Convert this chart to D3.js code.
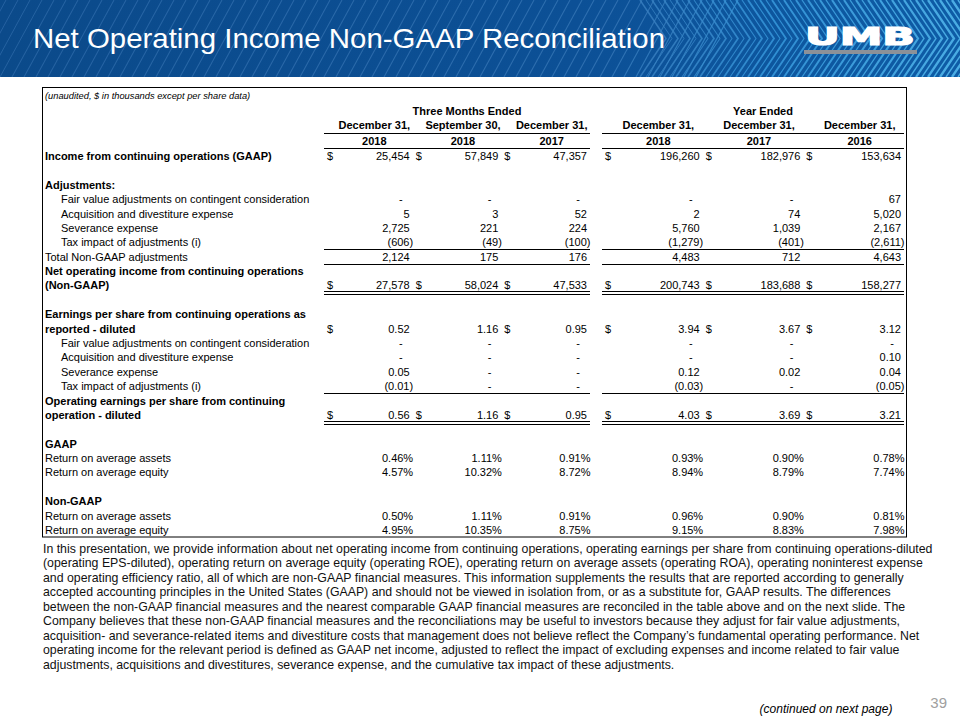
<!DOCTYPE html>
<html><head><meta charset="utf-8">
<script src="https://cdn.jsdelivr.net/npm/d3@7"></script>
<style>body{margin:0;background:#fff}svg{display:block}</style>
</head><body>
<svg id="c" width="960" height="720"></svg>
<script>
// ---------- data ----------
const title = "Net Operating Income Non-GAAP Reconciliation";
const unitNote = "(unaudited, $ in thousands except per share data)";
const groupTitles = ["Three Months Ended", "Year Ended"];
const periodLabels = ["December 31,", "September 30,", "December 31,", "December 31,", "December 31,", "December 31,"];
const periodYears = ["2018", "2018", "2017", "2018", "2017", "2016"];

const incomeGAAP      = [25454, 57849, 47357, 196260, 182976, 153634];
const adjFairValue    = [0, 0, 0, 0, 0, 67];
const adjAcquisition  = [5, 3, 52, 2, 74, 5020];
const adjSeverance    = [2725, 221, 224, 5760, 1039, 2167];
const adjTax          = [-606, -49, -100, -1279, -401, -2611];
const adjTotal        = [2124, 175, 176, 4483, 712, 4643];
const netOperating    = [27578, 58024, 47533, 200743, 183688, 158277];
const epsReported     = [0.52, 1.16, 0.95, 3.94, 3.67, 3.12];
const epsFairValue    = [0, 0, 0, 0, 0, 0];
const epsAcquisition  = [0, 0, 0, 0, 0, 0.10];
const epsSeverance    = [0.05, 0, 0, 0.12, 0.02, 0.04];
const epsTax          = [-0.01, 0, 0, -0.03, 0, -0.05];
const epsOperating    = [0.56, 1.16, 0.95, 4.03, 3.69, 3.21];
const gaapROA         = [0.46, 1.11, 0.91, 0.93, 0.90, 0.78];
const gaapROE         = [4.57, 10.32, 8.72, 8.94, 8.79, 7.74];
const nonGaapROA      = [0.50, 1.11, 0.91, 0.96, 0.90, 0.81];
const nonGaapROE      = [4.95, 10.35, 8.75, 9.15, 8.83, 7.98];

const paragraphLines = [
  "In this presentation, we provide information about net operating income from continuing operations, operating earnings per share from continuing operations-diluted",
  "(operating EPS-diluted), operating return on average equity (operating ROE), operating return on average assets (operating ROA), operating noninterest expense",
  "and operating efficiency ratio, all of which are non-GAAP  financial measures. This information supplements the results that are reported according to generally",
  "accepted accounting principles in the United States (GAAP)  and should not be viewed in isolation from, or as a substitute for, GAAP  results. The differences",
  "between the non-GAAP financial measures and the nearest comparable GAAP financial measures are reconciled in the table above and on the next slide. The",
  "Company believes that these non-GAAP  financial measures and the reconciliations may be useful to investors because they adjust for fair value adjustments,",
  "acquisition- and severance-related items and divestiture costs that management does not believe reflect the Company\u2019s fundamental operating performance. Net",
  "operating income for the relevant period is defined as GAAP  net income, adjusted to reflect the impact of excluding expenses and income related to fair value",
  "adjustments, acquisitions and divestitures, severance expense, and the cumulative tax impact of these adjustments."
];
const footnote = "(continued on next page)";
const pageNumber = "39";

// ---------- formats ----------
const fInt = v => v === 0 ? "-" : v < 0 ? "(" + d3.format(",")(-v) + ")" : d3.format(",")(v);
const fEps = v => v === 0 ? "-" : v < 0 ? "(" + d3.format(".2f")(-v) + ")" : d3.format(".2f")(v);
const fPct = v => d3.format(".2f")(v) + "%";
const ALL = [0,1,2,3,4,5];

const rows = [
  {label:"Income from continuing operations (GAAP)", bold:true, values:incomeGAAP, fmt:fInt, dollar:ALL},
  {label:""},
  {label:"Adjustments:", bold:true},
  {label:"Fair value adjustments on contingent consideration", indent:true, values:adjFairValue, fmt:fInt},
  {label:"Acquisition and divestiture expense", indent:true, values:adjAcquisition, fmt:fInt},
  {label:"Severance expense", indent:true, values:adjSeverance, fmt:fInt},
  {label:"Tax impact of adjustments (i)", indent:true, values:adjTax, fmt:fInt, rule:"single"},
  {label:"Total Non-GAAP adjustments", values:adjTotal, fmt:fInt, rule:"single"},
  {label:"Net operating income from continuing operations", bold:true},
  {label:"(Non-GAAP)", bold:true, values:netOperating, fmt:fInt, dollar:ALL, rule:"double"},
  {label:""},
  {label:"Earnings per share from continuing operations as", bold:true},
  {label:"reported - diluted", bold:true, values:epsReported, fmt:fEps, dollar:[0,2,3,4,5]},
  {label:"Fair value adjustments on contingent consideration", indent:true, values:epsFairValue, fmt:fEps},
  {label:"Acquisition and divestiture expense", indent:true, values:epsAcquisition, fmt:fEps},
  {label:"Severance expense", indent:true, values:epsSeverance, fmt:fEps},
  {label:"Tax impact of adjustments (i)", indent:true, values:epsTax, fmt:fEps, rule:"single"},
  {label:"Operating earnings per share from continuing", bold:true},
  {label:"operation - diluted", bold:true, values:epsOperating, fmt:fEps, dollar:ALL, rule:"double"},
  {label:""},
  {label:"GAAP", bold:true},
  {label:"Return on average assets", values:gaapROA, fmt:fPct, pct:true},
  {label:"Return on average equity", values:gaapROE, fmt:fPct, pct:true},
  {label:""},
  {label:"Non-GAAP", bold:true},
  {label:"Return on average assets", values:nonGaapROA, fmt:fPct, pct:true},
  {label:"Return on average equity", values:nonGaapROE, fmt:fPct, pct:true}
];

// ---------- drawing ----------
const svg = d3.select("#c");
const defs = svg.append("defs");
const FONT = "'Liberation Sans', Arial, sans-serif";

// Header bar
const hg = defs.append("linearGradient").attr("id","hg");
hg.append("stop").attr("offset","0%").attr("stop-color","#0b4a8a");
hg.append("stop").attr("offset","60%").attr("stop-color","#0c5096");
hg.append("stop").attr("offset","100%").attr("stop-color","#0e5ca6");
defs.append("clipPath").attr("id","hc").append("rect").attr("width",960).attr("height",77);
const hdr = svg.append("g").attr("clip-path","url(#hc)");
hdr.append("rect").attr("width",960).attr("height",77).attr("fill","url(#hg)");
const stripeCol = d3.scaleLinear().domain([0,600,760,960]).range(["#2d69a8","#3878b8","#3a9de0","#5cc4f5"]);
const stripeW = d3.scaleLinear().domain([0,600,960]).range([1,1.1,1.8]);
d3.range(-60, 700, 12).forEach(x => {
  hdr.append("line").attr("x1",x).attr("y1",77).attr("x2",x+42).attr("y2",0)
    .attr("stroke",stripeCol(x)).attr("stroke-width",stripeW(x)).attr("opacity",0.8);
});
d3.range(640, 980, 6).forEach((x,i) => {
  hdr.append("path").attr("d",`M${x},0 L${x+26},38.5 L${x},77`)
    .attr("fill","none").attr("stroke",stripeCol(x)).attr("stroke-width",stripeW(x)*(i%2?0.8:1.3)).attr("opacity",0.8);
});
hdr.append("text").attr("x",33).attr("y",48).text(title)
  .attr("font-family",FONT).attr("font-size",28).attr("fill","#fff")
  .attr("textLength",632).attr("lengthAdjust","spacingAndGlyphs");
hdr.append("rect").attr("x",804).attr("y",50).attr("width",113).attr("height",4).attr("fill","#8c9198");
hdr.append("text").attr("x",805).attr("y",45).text("UMB")
  .attr("font-family","'DejaVu Sans', sans-serif").attr("font-weight",900).attr("font-size",24)
  .attr("fill","#fff").attr("stroke","#fff").attr("stroke-width",1.2)
  .attr("textLength",110).attr("lengthAdjust","spacingAndGlyphs");

// Table
const TF = 11;
svg.append("rect").attr("x",42.5).attr("y",87.5).attr("width",864).attr("height",449.5)
  .attr("fill","none").attr("stroke","#000").attr("stroke-width",1);

const g1 = d3.scaleBand().domain([0,1,2]).range([324,590]);
const g2 = d3.scaleBand().domain([3,4,5]).range([602,904]);
const band = i => i < 3 ? g1 : g2;
const colL = i => band(i)(i) + 3;
const colR = i => band(i)(i) + band(i).bandwidth() - 3;
const colC = i => band(i)(i) + band(i).bandwidth()/2 + 6;
const spans = [g1.range(), g2.range()];

const rowY = d3.scaleLinear().domain([0, rows.length-1]).range([156, 530]);
const T = svg.append("g").attr("font-family",FONT).attr("font-size",TF).attr("fill","#000");
const base = 4;

T.append("text").attr("x",45).attr("y",95+base).attr("font-style","italic").attr("font-size",9.3).text(unitNote);
groupTitles.forEach((t,k) => {
  T.append("text").attr("x",(spans[k][0]+spans[k][1])/2 + 10).attr("y",111+base)
    .attr("text-anchor","middle").attr("font-weight","bold").text(t);
});
ALL.forEach(i => {
  T.append("text").attr("x",colC(i)).attr("y",125+base).attr("text-anchor","middle").attr("font-weight","bold").text(periodLabels[i]);
  T.append("text").attr("x",colC(i)).attr("y",141+base).attr("text-anchor","middle").attr("font-weight","bold").text(periodYears[i]);
});
const hline = (y) => spans.forEach(s => T.append("line").attr("x1",s[0]).attr("x2",s[1]).attr("y1",y).attr("y2",y).attr("stroke","#000").attr("stroke-width",1));
hline(133.5); hline(148.5);

rows.forEach((r,ri) => {
  const y = rowY(ri);
  if (r.label) T.append("text").attr("x", r.indent ? 61 : 45).attr("y", y+base)
    .attr("font-weight", r.bold ? "bold" : null).text(r.label);
  if (r.values) {
    r.values.forEach((v,i) => {
      const s = r.fmt(v);
      let x = colR(i);
      if (s === "-") x -= 7; else if (s[0] === "(" || r.pct) x += 3.5;
      T.append("text").attr("x",x).attr("y",y+base).attr("text-anchor","end").text(s);
    });
  }
  (r.dollar || []).forEach(i => T.append("text").attr("x",colL(i)).attr("y",y+base).text("$"));
  if (r.rule === "single") hline(Math.round(y + 7) + 0.5);
  if (r.rule === "double") { hline(Math.round(y + 6) + 0.5); hline(Math.round(y + 6) + 3.5); }
});

// Paragraph
const P = svg.append("g").attr("font-family",FONT).attr("font-size",12).attr("fill","#111");
const lines = P.selectAll("text").data(paragraphLines).join("text")
  .attr("x",0).attr("y",(d,i) => 553 + i*14.5).text(d => d);
const w0 = lines.nodes()[0].getComputedTextLength();
const sx = 890 / w0;
P.attr("transform",`translate(43,0) scale(${sx},1)`);

svg.append("text").attr("x",826).attr("y",713).attr("text-anchor","middle")
  .attr("font-family",FONT).attr("font-style","italic").attr("font-size",12).text(footnote);
svg.append("text").attr("x",947).attr("y",708).attr("text-anchor","end")
  .attr("font-family",FONT).attr("font-size",15).attr("fill","#a0a0a0").text(pageNumber);
</script>
</body></html>
